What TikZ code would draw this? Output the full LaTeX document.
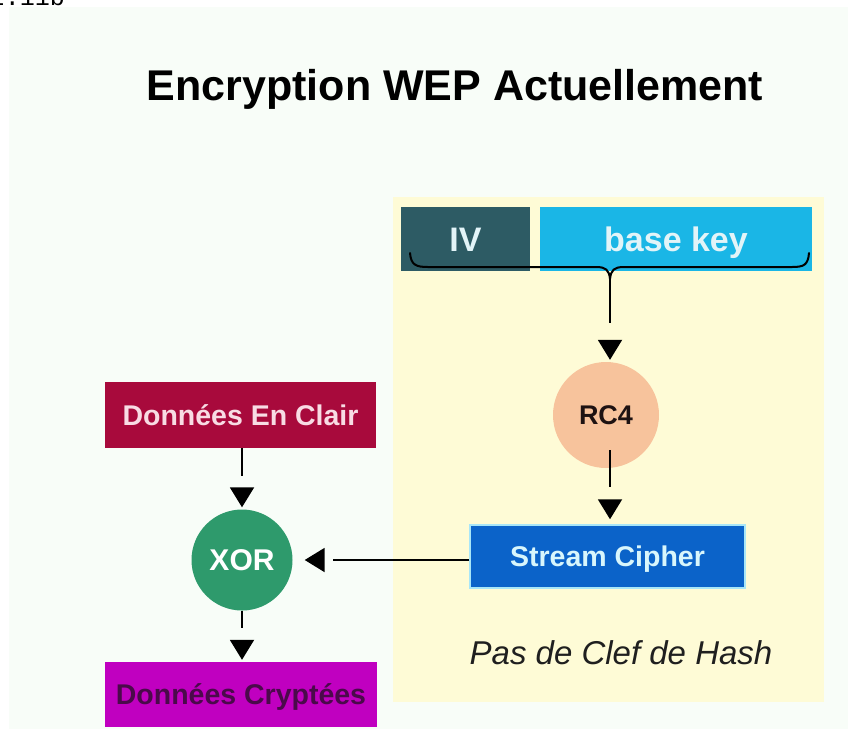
\documentclass[tikz,border=0pt]{standalone}
\usepackage{fontspec}
\setmainfont{Liberation Sans}
\setmonofont{Liberation Mono}
\usetikzlibrary{arrows.meta,decorations.markings}

\definecolor{slidebg}{HTML}{F8FDF8}
\definecolor{panelyellow}{HTML}{FEFBD6}
\definecolor{ivcol}{HTML}{2D5B64}
\definecolor{keycol}{HTML}{1AB6E6}
\definecolor{keytext}{HTML}{E2F4F8}
\definecolor{claircol}{HTML}{A80A3C}
\definecolor{clairtext}{HTML}{F8DCE4}
\definecolor{xorcol}{HTML}{2E9A6C}
\definecolor{rccol}{HTML}{F7C39C}
\definecolor{rctext}{HTML}{1E1212}
\definecolor{sccol}{HTML}{0B63C9}
\definecolor{scedge}{HTML}{A8E6F8}
\definecolor{sctext}{HTML}{D8F6FC}
\definecolor{crypcol}{HTML}{C000C0}
\definecolor{cryptext}{HTML}{4A0A4A}

\tikzset{
  block/.style={rectangle, inner sep=0pt, text height=20.5pt, text depth=0pt,
    font=\bfseries\fontsize{28.5}{30}\selectfont},
  keyblock/.style={block, text height=24.4pt, minimum height=64pt,
    font=\bfseries\fontsize{34}{34}\selectfont},
  disc/.style={circle, inner sep=0pt, text depth=0pt},
  % connector: the line stops short, the head sits detached in front of it
  % #1 = gap between head and target, #2 = how far the line stops short
  flow/.style 2 args={draw=black, line width=2pt, shorten >=#2,
    postaction={decorate},
    decoration={markings,
      mark=at position -#1 with {\arrow{Triangle[length=20pt,width=24pt]}}}},
  braceline/.style={draw=black, line width=2pt, line cap=round}
}

\begin{document}
\begin{tikzpicture}[x=1pt, y=-1pt]
\useasboundingbox (0,0) rectangle (848,729);

% slide background and the yellow panel behind the key schedule
\fill[white] (0,0) rectangle (848,729);
\fill[slidebg] (9,7) rectangle (848,729);
\fill[panelyellow] (393,197) rectangle (824,702);

% header remnant at the top edge
\node[anchor=base east, inner sep=0pt, font=\ttfamily\fontsize{25}{25}\selectfont] (hdr) at (65,5) {802.11b};

% title
\node[anchor=base, inner sep=0pt, font=\bfseries\fontsize{43}{43}\selectfont] (title) at (455,100) {Encryption WEP Actuellement};

% key material
\node[keyblock, fill=ivcol, text=keytext, minimum width=129pt] (iv) at (465.5,239) {IV};
\node[keyblock, fill=keycol, text=keytext, minimum width=272pt] (key) at (676,239) {base key};

% brace gathering IV and key
\draw[braceline] (410,253) .. controls (411,265) and (416,267) .. (428,267)
  -- (596,267) .. controls (606,267) and (609,270) .. (610,279)
  .. controls (611,270) and (614,267) .. (624,267)
  -- (792,267) .. controls (804,267) and (808,265) .. (809,253);
\coordinate (bracetip) at (610,279);

% RC4 and the key stream
\node[disc, fill=rccol, text=rctext, minimum size=106pt, text height=19.4pt,
  font=\bfseries\fontsize{27}{27}\selectfont] (rc4) at (606,415) {RC4};
\node[block, fill=sccol, draw=scedge, line width=1.5pt, text=sctext,
  minimum width=275pt, minimum height=63pt] (sc) at (607.5,556.5) {Stream Cipher};

% plaintext, XOR and ciphertext
\node[block, fill=claircol, text=clairtext, minimum width=271pt, minimum height=66pt] (clair) at (240.5,415) {Données En Clair};
\node[disc, fill=xorcol, text=white, minimum size=101pt, text height=21.5pt,
  font=\bfseries\fontsize{30}{30}\selectfont] (xor) at (242,560) {XOR};
\node[block, fill=crypcol, text=cryptext, minimum width=272pt, minimum height=65pt] (cryp) at (241,694.5) {Données Cryptées};

% note
\node[anchor=base, inner sep=0pt, text=black!88, font=\itshape\fontsize{33}{33}\selectfont] (note) at (621,664) {Pas de Clef de Hash};

% connectors
\draw[flow={2pt}{39pt}] (bracetip) -- (bracetip |- rc4.north);
\draw[flow={5pt}{37pt}, shorten <=-18pt] (bracetip |- rc4.south) -- (bracetip |- sc.north);
\draw[flow={2pt}{33pt}] (clair.south -| xor) -- (xor.north);
\draw[flow={2pt}{34pt}] (xor.south) -- (xor.south |- cryp.north);
\draw[flow={12pt}{40pt}] (sc.west |- xor.east) -- (xor.east);
\end{tikzpicture}
\end{document}
